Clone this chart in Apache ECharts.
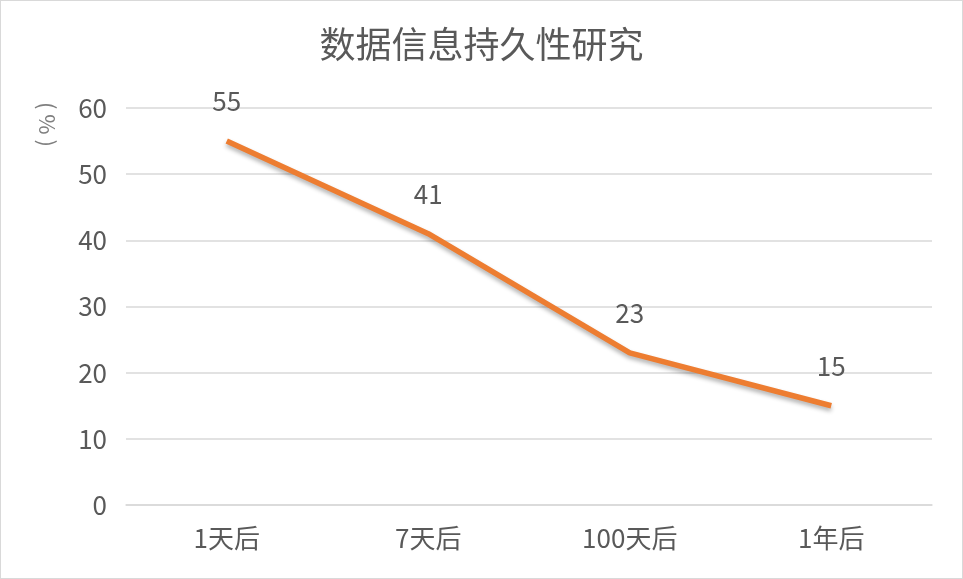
<!DOCTYPE html>
<html><head><meta charset="utf-8">
<script src="https://cdn.jsdelivr.net/npm/echarts@6/dist/echarts.min.js"></script>
<style>html,body{margin:0;padding:0;background:#fff}#c{width:961px;height:577px;border:1px solid #d9d9d9}</style>
</head><body><div id="c"></div>
<script>
const categories = ['1天后', '7天后', '100天后', '1年后'];
const values = [55, 41, 23, 15];
const yTicks = {min: 0, max: 60, interval: 10};
const chart = echarts.init(document.getElementById('c'));
const font = '"Microsoft YaHei","Noto Sans CJK SC","Noto Sans",sans-serif';
chart.setOption({
  animation: false,
  title: {text: '数据信息持久性研究', left: 'center', top: 20,
    textStyle: {fontFamily: font, fontSize: 36, fontWeight: 'normal', color: '#595959'}},
  grid: {left: 125, right: 30, top: 107, bottom: 73},
  graphic: [{type: 'text', left: 35, top: 101, rotation: -Math.PI/2,
    style: {text: '( % )', font: '22px ' + font, fill: '#7f7f7f'}}],
  xAxis: {type: 'category', data: categories, boundaryGap: true,
    axisLine: {lineStyle: {color: '#d9d9d9', width: 1.5}}, axisTick: {show: false},
    axisLabel: {fontFamily: font, fontSize: 26, color: '#595959', margin: 20}},
  yAxis: {type: 'value', min: yTicks.min, max: yTicks.max, interval: yTicks.interval,
    axisLine: {show: false}, axisTick: {show: false},
    axisLabel: {fontFamily: font, fontSize: 26, color: '#595959', margin: 19}},
  series: [{type: 'line', data: values, symbol: 'circle', symbolSize: 1,
    itemStyle: {color: 'rgba(237,125,49,0)'},
    lineStyle: {color: '#ED7D31', width: 5.5, shadowColor: 'rgba(0,0,0,0.3)', shadowBlur: 4, shadowOffsetY: 3},
    label: {show: true, position: 'top', distance: 26, fontFamily: font, fontSize: 26, color: '#595959'}}]
});
chart.setOption({yAxis: {splitLine: {lineStyle: {color: '#d9d9d9', width: 1.5}}}});
</script></body></html>
